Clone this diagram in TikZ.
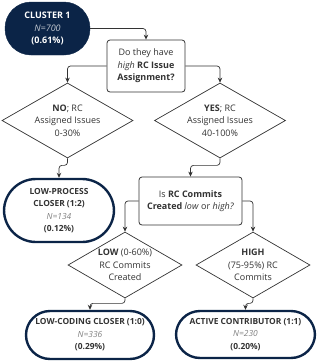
\documentclass[tikz,border=0pt]{standalone}
\usepackage{fontspec}
\setmainfont{Open Sans}
\usetikzlibrary{arrows.meta,positioning,calc,shapes.geometric}
\definecolor{navy}{HTML}{0B2447}
\definecolor{ink}{HTML}{333333}
\tikzset{
  txt/.style={font=\fontsize{9}{12.5}\selectfont,text=ink,align=center},
  startblk/.style={txt,rectangle,rounded corners=26pt,draw=navy,fill=navy,text=white,minimum width=85pt,minimum height=53pt,inner sep=0pt},
  endblk/.style={txt,font=\fontsize{8.4}{12.5}\selectfont,rectangle,rounded corners=24pt,draw=navy,fill=white,line width=2.4pt,inner sep=0pt},
  qblk/.style={txt,rectangle,rounded corners=3pt,draw=ink,line width=0.8pt,fill=white,inner sep=0pt},
  decblk/.style={txt,diamond,aspect=1.75,draw=ink,line width=0.7pt,fill=white,inner sep=0pt},
  conn/.style={-{Stealth[length=5pt,width=4.5pt]},draw=ink,line width=0.7pt,rounded corners=3pt}
}

\begin{document}
\begin{tikzpicture}[x=1pt,y=1pt]
  \useasboundingbox (0,0) rectangle (317,-362);
  % Start
  \node[startblk] (clu) at (47.5,-28.5) {\textbf{CLUSTER 1}\\ \textcolor{white!75!navy}{\textit{N=700}}\\ \textbf{(0.61\%)}};

  % First question and its answers
  \node[qblk, minimum width=78pt, minimum height=52pt] (q1) at (146,-66) {Do they have\\ \textit{high} \textbf{RC Issue}\\ \textbf{Assignment?}};
  \node[decblk, minimum width=131pt, minimum height=75pt] (dno) at (67.5,-120.5) {\textbf{NO}; RC\\ Assigned Issues\\ 0-30\%};
  \node[decblk, minimum width=131pt, minimum height=75pt] (dyes) at (220,-120.5) {\textbf{YES}; RC\\ Assigned Issues\\ 40-100\%};

  % Low-process closer
  \node[endblk, rounded corners=32pt, minimum width=110pt, minimum height=63pt] (lpc) at (59,-210.5) {\textbf{LOW-PROCESS}\\ \textbf{CLOSER (1:2)}\\ {\color{gray}\textit{N=134}}\\ \textbf{(0.12\%)}};

  % Second question and its answers
  \node[qblk, minimum width=103pt, minimum height=48pt] (q2) at (190.5,-201) {Is \textbf{RC Commits}\\ \textbf{Created} \textit{low} or \textit{high?}};
  \node[decblk, aspect=1.73, minimum width=114pt, minimum height=66pt] (dlow) at (125,-265) {\textbf{LOW} (0-60\%)\\ RC Commits\\ Created};
  \node[decblk, aspect=1.73, minimum width=114pt, minimum height=66pt] (dhigh) at (253,-265) {\textbf{HIGH}\\ (75-95\%) RC\\ Commits};

  % Leaf roles
  \node[endblk, minimum width=128pt, minimum height=48pt] (lcc) at (90,-335) {\textbf{LOW-CODING CLOSER (1:0)}\\ {\color{gray}\textit{N=336}}\\ \textbf{(0.29\%)}};
  \node[endblk, minimum width=139pt, minimum height=47pt] (act) at (245.5,-334.5) {\textbf{ACTIVE CONTRIBUTOR (1:1)}\\ {\color{gray}\textit{N=230}}\\ \textbf{(0.20\%)}};

  % Connections
  \draw[conn] (clu.east) -| (q1.north);
  \draw[conn] (q1.west) -| (dno.north);
  \draw[conn] (q1.east) -| (dyes.north);
  \draw[conn] (dno.south) -- ++(0,-7) -| (lpc.north);
  \draw[conn] (dyes.south) -- ++(0,-7) -| (q2.north);
  \draw[conn] (q2.west) -| (dlow.north);
  \draw[conn] (q2.east) -| (dhigh.north);
  \draw[conn] (dlow.south) -- ++(0,-5) -| (lcc.north);
  \draw[conn] (dhigh.south) -- ++(0,-5) -| (act.north);
\end{tikzpicture}
\end{document}
